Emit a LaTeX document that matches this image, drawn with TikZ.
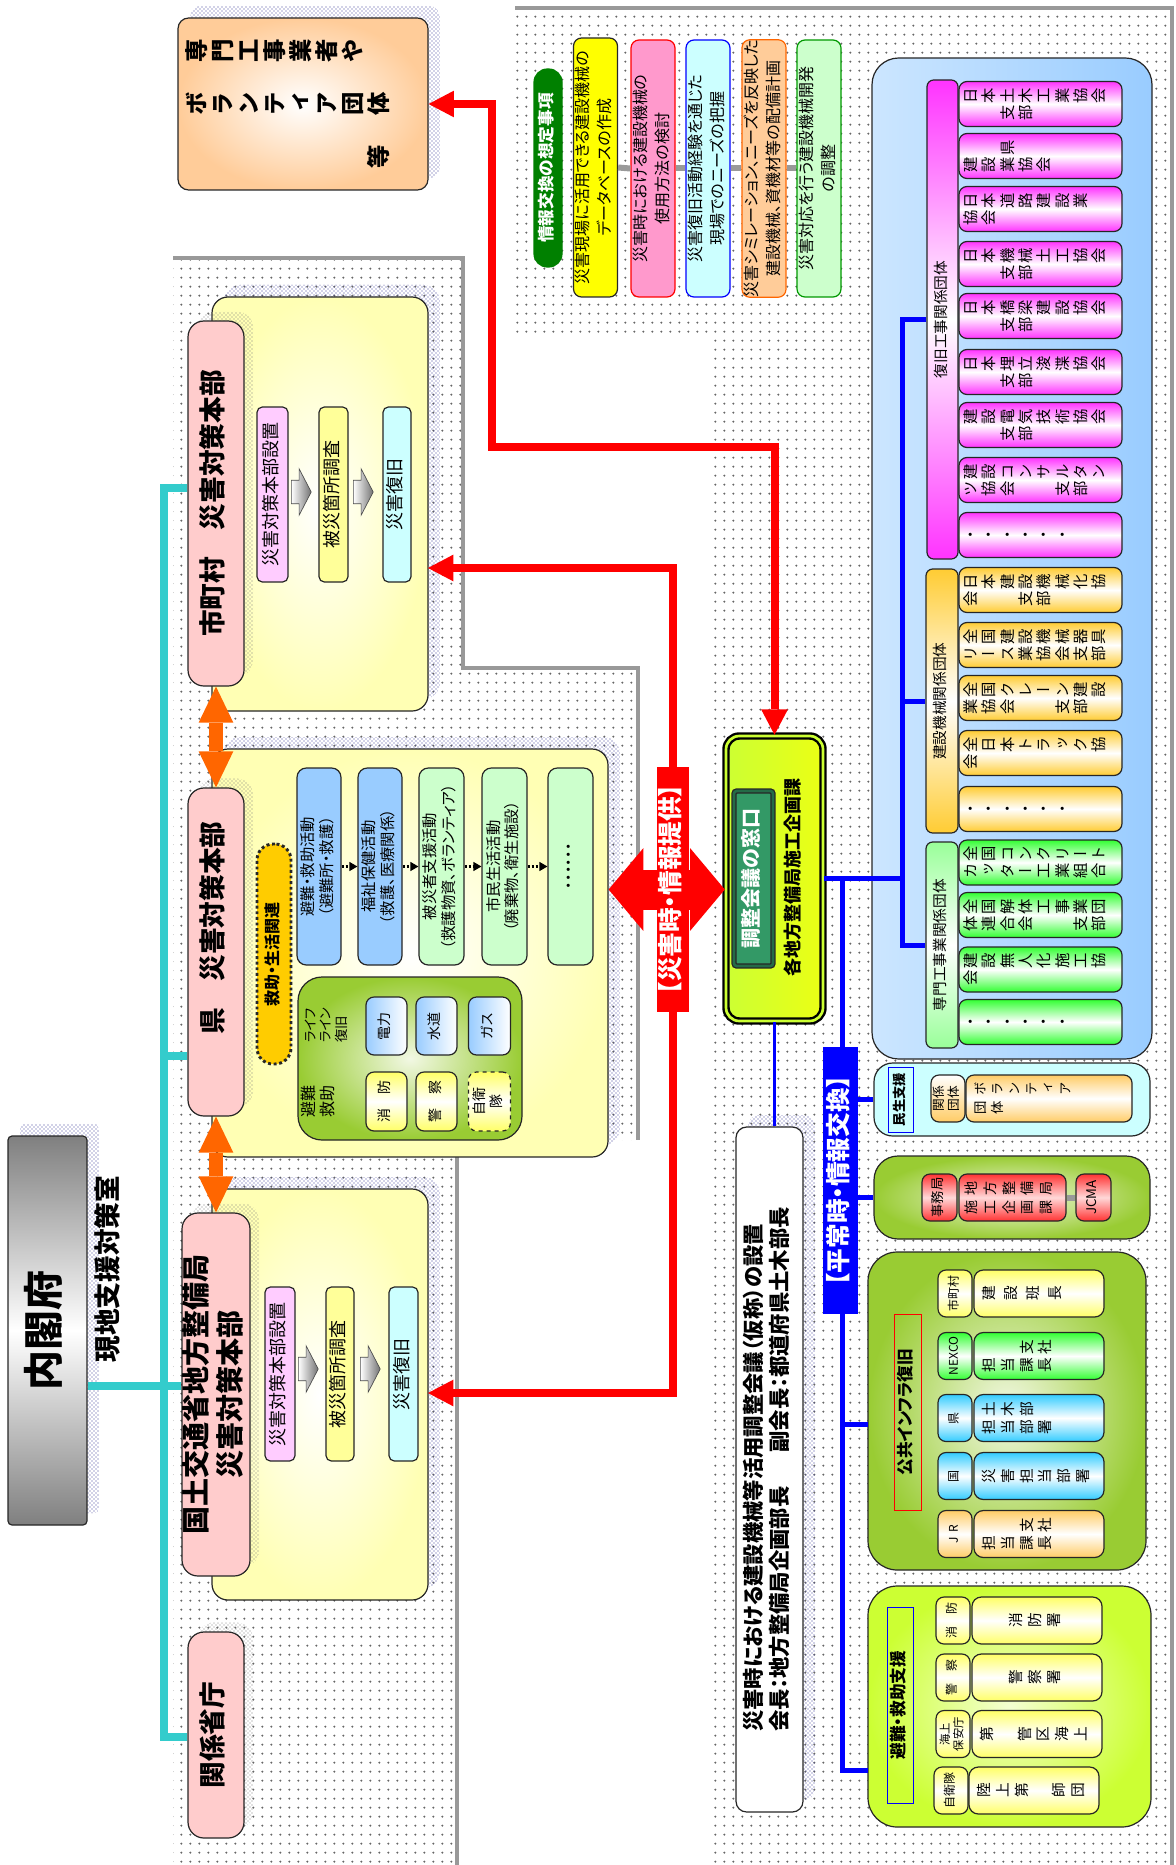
\documentclass[tikz,border=0pt]{standalone}
\usepackage{fontspec}
\setmainfont{Noto Sans CJK JP}[RawFeature=+palt, BoldFont={Noto Sans CJK JP Black}]
\usepackage{graphicx}
\usetikzlibrary{arrows.meta, calc, positioning, shapes.arrows, shadows, patterns, patterns.meta}

\definecolor{yelbox}{HTML}{FFFFB4}
\definecolor{pinklbl}{HTML}{FFCCCC}
\definecolor{stepA}{HTML}{FFCCFF}
\definecolor{stepB}{HTML}{FFFF99}
\definecolor{stepC}{HTML}{CCFFFF}
\definecolor{actblue}{HTML}{99CCFF}
\definecolor{actgrn}{HTML}{CCFFCC}
\definecolor{kyujoorg}{HTML}{FFCC00}
\definecolor{lifegrn}{HTML}{99CC33}
\definecolor{lifelt}{HTML}{F2F8E4}
\definecolor{hotred}{HTML}{FF0000}
\definecolor{orng}{HTML}{FF6600}
\definecolor{tealc}{HTML}{33CCCC}
\definecolor{shadowblue}{HTML}{3C3C96}
\definecolor{panelblue}{HTML}{99CCFF}
\definecolor{panellt}{HTML}{CCE6FF}
\definecolor{magc}{HTML}{FF33FF}
\definecolor{orgc}{HTML}{FFCC33}
\definecolor{grnc}{HTML}{33FF33}
\definecolor{grnlbl}{HTML}{99FF99}
\definecolor{minseic}{HTML}{CCFFFF}
\definecolor{limec}{HTML}{CCFF33}
\definecolor{limelt}{HTML}{F4FFD2}
\definecolor{madogrn}{HTML}{339966}
\definecolor{peach}{HTML}{FFCC99}
\definecolor{itemA}{HTML}{FFFF00}
\definecolor{itemB}{HTML}{FF99CC}
\definecolor{itemC}{HTML}{CCFFFF}
\definecolor{itemD}{HTML}{FFCC99}
\definecolor{itemE}{HTML}{CCFFCC}
\definecolor{rowyel}{HTML}{FFFF66}
\definecolor{rowgrn}{HTML}{33FF33}
\definecolor{rowblue}{HTML}{33CCFF}
\definecolor{roworg}{HTML}{FFCC66}
\definecolor{jcmared}{HTML}{FF3333}
\definecolor{kougrn}{HTML}{008000}

\makeatletter
\newlength\tategap
\newcommand\tate[1]{{\addfontfeatures{RawFeature=+vert}\@tfor\tate@c:=#1\do{\rotatebox{90}{\rule[-.12em]{0pt}{1em}\tate@c}\kern\tategap}}}
\makeatother
\newcommand\yoko[1]{\rotatebox{90}{\begin{tabular}{@{}c@{}}#1\end{tabular}}}
\newcommand\yokol[1]{\rotatebox{90}{\begin{tabular}{@{}l@{}}#1\end{tabular}}}

\tikzdeclarepattern{
  name=paneldots,
  type=uncolored,
  bounding box={(0pt,0pt) and (7pt,7pt)},
  tile size={(7pt,7pt)},
  code={\pgfpathcircle{\pgfqpoint{3.5pt}{3.5pt}}{0.9pt}\pgfusepath{fill}}
}

\tikzset{
  px/.style 2 args={minimum width=#1*0.75pt, minimum height=#2*0.75pt},
  rbox/.style     ={draw=black!85, line width=0.9pt, rounded corners=4pt, inner sep=0pt},
  panelrim/.style ={draw=black!40, line width=2.5pt},
  bshadow/.style  ={general shadow={shadow xshift=9pt, shadow yshift=9pt, pattern=crosshatch dots, pattern color=shadowblue}},
  gshadow/.style  ={general shadow={shadow xshift=7pt, shadow yshift=7pt, pattern=crosshatch dots, pattern color=black!50}},
  hqbox/.style    ={rbox, rounded corners=12pt, inner color=white, outer color=yelbox, bshadow},
  hq/.style       ={rbox, rounded corners=12pt, fill=pinklbl, gshadow, font=\fontsize{20}{23}\selectfont\bfseries},
  stepbox/.style  ={rbox, rounded corners=4pt, font=\fontsize{13.5}{15}\selectfont},
  blockarr/.style ={single arrow, draw=black!70, line width=0.5pt, left color=white, right color=black!55, anchor=tail,
                    inner xsep=4.9pt, inner ysep=8.6pt, single arrow head extend=8.6pt, single arrow tip angle=125},
  act/.style      ={rbox, rounded corners=7pt, px={44}{197}, font=\fontsize{11.5}{13.5}\selectfont},
  unit/.style     ={rbox, rounded corners=6pt, font=\fontsize{10.5}{12}\selectfont},
  item/.style     ={rbox, rounded corners=6pt, font=\fontsize{12}{16.5}\selectfont},
  grp/.style      ={rbox, rounded corners=5pt, font=\fontsize{11}{13}\selectfont},
  member/.style   ={rbox, rounded corners=6pt, px={163}{45}, text width=116pt, inner xsep=3pt, align=left,
                    font=\fontsize{11.5}{12.75}\selectfont\setlength\tategap{2.2pt}},
  magbox/.style   ={member, top color=magc, bottom color=magc, middle color=white},
  orgbox/.style   ={member, top color=orgc, bottom color=orgc, middle color=white},
  grnbox/.style   ={member, top color=grnc, bottom color=grnc, middle color=white},
  sml/.style      ={rbox, rounded corners=6pt, px={34}{47}, font=\fontsize{9}{10.5}\selectfont},
  big/.style      ={rbox, rounded corners=7pt, px={130}{47}, text width=85.5pt, inner xsep=6pt, align=left,
                    font=\fontsize{11}{14}\selectfont\setlength\tategap{3pt}},
  greenbox/.style ={rbox, rounded corners=18pt, inner color=lifelt, outer color=lifegrn},
  limebox/.style  ={rbox, rounded corners=18pt, inner color=limelt, outer color=limec},
  tag/.style      ={inner sep=0pt, font=\fontsize{12.5}{14}\selectfont\bfseries},
  redline/.style  ={draw=hotred, line width=6pt},
  redarr/.style   ={redline, -{Triangle[length=19pt, width=20pt, line width=0pt]}},
  redboth/.style  ={redline, {Triangle[length=19pt, width=20pt, line width=0pt]}-{Triangle[length=19pt, width=20pt, line width=0pt]}},
  bigred/.style   ={draw=hotred, line width=30pt, {Triangle[length=26pt, width=62pt, line width=0pt]}-{Triangle[length=26pt, width=62pt, line width=0pt]}},
  orngarr/.style  ={draw=orng, line width=11pt, {Triangle[length=27pt, width=26pt, line width=0pt]}-{Triangle[length=27pt, width=26pt, line width=0pt]}},
  tealline/.style ={draw=tealc, line width=6pt},
  blueline/.style ={draw=blue, line width=3.75pt},
  dotarr/.style   ={densely dotted, line width=2pt, -{Triangle[length=6pt, width=7pt, line width=0pt]}},
  graybar/.style  ={draw=black!40, line width=4.5pt},
}

\begin{document}
\begin{tikzpicture}[x=0.75pt, y=-0.75pt]
  \useasboundingbox (0,0) rectangle (1175,1865);
  \fill[pattern=paneldots, pattern color=black!60] (173,258) -- (463,258) -- (463,668) -- (638,668) -- (638,1140) -- (457,1140) -- (457,1865) -- (173,1865) -- cycle;
  \fill[pattern=paneldots, pattern color=black!60] (515,8) -- (1172,8) -- (1172,1865) -- (712,1865) -- (712,337) -- (515,337) -- cycle;
  \draw[panelrim] (173,258) -- (463,258) -- (463,668) -- (638,668) -- (638,1140);
  \draw[panelrim] (457,1150) -- (457,1865);
  \draw[panelrim] (515,8) -- (1172,8) -- (1172,1865);

  \node[rbox, rounded corners=3pt, px={79}{389}, top color=black!50, bottom color=black!50, middle color=white, bshadow,
        font=\fontsize{30}{32}\selectfont\bfseries] (naikaku) at (47.5,1330.5) {\yoko{内閣府}};
  \node[font=\fontsize{20}{22}\selectfont\bfseries] (genchi) at (110.5,1269) {\yoko{現地支援対策室}};

  \node[hqbox, px={216}{414}] (shibox) at (320,504) {};
  \node[hq, px={56}{365}] (shilbl) at (216,503.5) {\yoko{市町村　災害対策本部}};
  \node[stepbox, fill=stepA, px={31}{175}] (shi1) at (272.5,494.5) {\yoko{災害対策本部設置}};
  \node[blockarr] (shia1) at (291,492) {};
  \node[stepbox, fill=stepB, px={29}{175}] (shi2) at (333.5,494.5) {\yoko{被災箇所調査}};
  \node[blockarr] (shia2) at (353,492) {};
  \node[stepbox, fill=stepC, px={28}{175}] (shi3) at (397,494.5) {\yoko{災害復旧}};

  \node[hqbox, px={396}{408}] (kenbox) at (410,953) {};
  \node[hq, px={56}{328}] (kenlbl) at (216,952) {\yoko{\hspace*{1.8em}県　災害対策本部}};
  \node[rbox, rounded corners=12pt, px={34}{220}, fill=kyujoorg, line width=2.2pt, dotted,
        font=\fontsize{12}{14}\selectfont\bfseries] (kyujo) at (274,954) {\yoko{救助・生活関連}};
  \node[act, fill=actblue] (act1) at (319,866.5) {\yoko{避難・救助活動\\（避難所・救護）}};
  \node[act, fill=actblue] (act2) at (380,866.5) {\yoko{福祉保健活動\\（救護、医療関係）}};
  \node[act, fill=actgrn, px={45}{197}] (act3) at (441.5,866.5) {\yoko{被災者支援活動\\（救護物資、ボランティア）}};
  \node[act, fill=actgrn, px={45}{197}] (act4) at (504.5,866.5) {\yoko{市民生活活動\\（廃棄物、衛生施設）}};
  \node[act, fill=actgrn, px={45}{197}] (act5) at (570.5,866.5) {\yoko{・・・・・・}};
  \draw[dotarr] (act1.east) -- (act2.west);
  \draw[dotarr] (act2.east) -- (act3.west);
  \draw[dotarr] (act3.east) -- (act4.west);
  \draw[dotarr] (act4.east) -- (act5.west);

  \node[greenbox, px={224}{163}] (lifebox) at (410,1058.5) {};
  \node[font=\fontsize{12}{13.5}\selectfont] (lifehin) at (320,1101) {\yoko{避難\\救助}};
  \node[font=\fontsize{10}{11.25}\selectfont] (lifelbl) at (328,1025) {\yokol{ライフ\\ライン\\復旧}};
  \node[unit, px={41}{58}, left color=actblue, right color=white] (den) at (386.5,1026) {\yoko{電力}};
  \node[unit, px={41}{58}, left color=actblue, right color=white] (sui) at (436.5,1026) {\yoko{水道}};
  \node[unit, px={42}{58}, left color=actblue, right color=white] (gas) at (489.5,1026) {\yoko{ガス}};
  \node[unit, px={41}{59}, top color=rowyel, bottom color=rowyel, middle color=white] (sho) at (386.5,1101.5) {\yoko{消　防}};
  \node[unit, px={41}{59}, top color=rowyel, bottom color=rowyel, middle color=white] (kei) at (436.5,1101.5) {\yoko{警　察}};
  \node[unit, px={42}{59}, top color=rowyel, bottom color=rowyel, middle color=white, dashed] (jiei) at (489.5,1101.5) {\yoko{自衛\\隊}};

  \node[hqbox, px={216}{411}] (kokbox) at (320,1394.5) {};
  \node[hq, px={68}{363}, font=\fontsize{21}{23}\selectfont\bfseries] (koklbl) at (216,1394.5) {\yoko{国土交通省地方整備局\\災害対策本部}};
  \node[stepbox, fill=stepA, px={30}{174}] (kok1) at (280,1374) {\yoko{災害対策本部設置}};
  \node[blockarr] (koka1) at (298,1369) {};
  \node[stepbox, fill=stepB, px={28}{174}] (kok2) at (340,1374) {\yoko{被災箇所調査}};
  \node[blockarr] (koka2) at (360,1369) {};
  \node[stepbox, fill=stepC, px={29}{174}] (kok3) at (403.5,1374) {\yoko{災害復旧}};

  \node[hq, px={56}{206}] (kanlbl) at (216,1735) {\yoko{関係省庁}};

  \coordinate (tshi) at (164,488);
  \coordinate (tken) at (164,1056);
  \coordinate (tkok) at (164,1386);
  \coordinate (tkan) at (164,1737);
  \draw[tealline] (tshi -| shilbl.west) -- (tshi) -- (tkan) -- (tkan -| kanlbl.west);
  \draw[tealline] (tken) -- (tken -| kenlbl.west);
  \draw[tealline] (tkok -| naikaku.east) -- (tkok -| koklbl.west);
  \draw[orngarr] (shilbl.south) -- (kenlbl.north);
  \draw[orngarr] (kenlbl.south) -- (koklbl.north);

  \node[rbox, rounded corners=8pt, px={250}{172}, inner color=white, outer color=peach, bshadow, text width=177pt,
        inner xsep=5.25pt, align=left, font=\fontsize{17.5}{40}\selectfont\bfseries\setlength\tategap{2pt}] (vol)
        at (303,104) {\tate{専門工事業者や}\\\tate{ボランティア団体}\\\tate{　　　　　　　等}};

  \node[rbox, rounded corners=10pt, px={97}{285}, draw=black, line width=1.8pt, double=limec, double distance=2pt,
        left color=limec, right color=yellow!60!limec] (chosei) at (774.5,878.5) {};
  \node[rbox, px={39}{175}, rounded corners=2pt, fill=madogrn, draw=black!85, line width=1pt, double=madogrn!70!black,
        double distance=2pt, text=white, font=\fontsize{15}{17}\selectfont\bfseries] (mado) at (753.5,878.5) {\yoko{調整会議の窓口}};
  \node[font=\fontsize{13.5}{15}\selectfont\bfseries] (kakuchi) at (795,877) {\yoko{各地方整備局施工企画課}};

  \node[rbox, rounded corners=8pt, px={67}{685}, fill=white, bshadow, font=\fontsize{16}{19}\selectfont\bfseries] (kaigi)
        at (769.5,1469.5) {\yokol{災害時における建設機械等活用調整会議（仮称）の設置\\会長：地方整備局企画部長\hspace{1.6em}副会長：都道府県土木部長}};

  \coordinate (shiin) at (428,568);
  \coordinate (kokin) at (428,1393);
  \node[inner sep=0pt, px={32}{245}] (saigai) at (673,889.5) {};
  \draw[bigred] (kenbox.east |- saigai.center) -- (chosei.west |- saigai.center);
  \draw[redarr] (saigai.north) |- (shiin);
  \draw[redarr] (saigai.south) |- (kokin);
  \node[fill=hotred, inner sep=0pt, px={32}{245}, text=white, font=\fontsize{18.5}{20}\selectfont\bfseries] at (saigai) {\yoko{【災害時・情報提供】}};
  \draw[redboth] (vol.east) -| (492,447) -| (chosei.north);

  \node[rbox, rounded corners=10pt, px={28}{198}, fill=kougrn, draw=kougrn, text=white,
        font=\fontsize{12.5}{14}\selectfont\bfseries] (kouk) at (548,168) {\yoko{情報交換の想定事項}};
  \node[item, px={43}{259}, fill=itemA] (item1) at (595.5,167.5) {\yoko{災害現場に活用できる建設機械の\\データベースの作成}};
  \node[item, px={42}{257}, fill=itemB, draw=red] (item2) at (653,168.5) {\yoko{災害時における建設機械の\\使用方法の検討}};
  \node[item, px={42}{257}, fill=itemC, draw=blue] (item3) at (708,168.5) {\yoko{災害復旧活動経験を通じた\\現場でのニーズの把握}};
  \node[item, px={40}{257}, fill=itemD, draw=orng] (item4) at (764,168.5) {\yoko{災害シミレーション、ニーズを反映した\\建設機械、資機材等の配備計画}};
  \node[item, px={42}{257}, fill=itemE, draw=green!60!black] (item5) at (819,168.5) {\yoko{災害対応を行う建設機械開発\\の調整}};
  \draw[graybar] (item1.east) -- (item2.west);
  \draw[graybar] (item2.east) -- (item3.west);
  \draw[graybar] (item3.east) -- (item4.west);
  \draw[graybar] (item4.east) -- (item5.west);

  \node[rbox, rounded corners=20pt, px={280}{1001}, left color=panellt, right color=panelblue] (bpanel) at (1012,558.5) {};
  \node[grp, px={31}{479}, top color=magc, bottom color=magc, middle color=white] (fkgrp) at (942.5,319.5) {\yoko{復旧工事関係団体}};
  \node[grp, px={32}{264}, top color=orgc, bottom color=orgc, middle color=white] (kkgrp) at (942,701) {\yoko{建設機械関係団体}};
  \node[grp, px={32}{206}, top color=grnlbl, bottom color=grnlbl, middle color=white] (sngrp) at (942,945) {\yoko{専門工事業関係団体}};

  \node[magbox] (m1) at (1040.5,104) {\tate{日本土木工業協会}\\\tate{　　支部}};
  \node[magbox] (m2) at (1040.5,156) {\tate{　　県}\\\tate{建設業協会}};
  \node[magbox] (m3) at (1040.5,209) {\tate{日本道路建設業}\\\tate{協会}};
  \node[magbox] (m4) at (1040.5,264) {\tate{日本機械土工協会}\\\tate{　　支部}};
  \node[magbox] (m5) at (1040.5,316) {\tate{日本橋梁建設協会}\\\tate{　　支部}};
  \node[magbox] (m6) at (1040.5,372) {\tate{日本埋立浚渫協会}\\\tate{　　支部}};
  \node[magbox] (m7) at (1040.5,425) {\tate{建設電気技術協会}\\\tate{　　支部}};
  \node[magbox] (m8) at (1040.5,480) {\tate{建設コンサルタン}\\\tate{ツ協会　　支部}};
  \node[magbox] (m9) at (1040.5,535) {\tate{・・・・・・}};
  \node[orgbox] (o1) at (1040.5,590) {\tate{日本建設機械化協}\\\tate{会　　支部}};
  \node[orgbox] (o2) at (1040.5,645) {\tate{全国建設機械器具}\\\tate{リース業協会支部}};
  \node[orgbox] (o3) at (1040.5,698) {\tate{全国クレーン建設}\\\tate{業協会　　支部}};
  \node[orgbox] (o4) at (1040.5,753) {\tate{全日本トラック協}\\\tate{会}};
  \node[orgbox] (o5) at (1040.5,809) {\tate{・・・・・・}};
  \node[grnbox] (s1) at (1040.5,862.5) {\tate{全国コンクリート}\\\tate{カッター工業組合}};
  \node[grnbox] (s2) at (1040.5,915) {\tate{全国解体工事業団}\\\tate{体連合会　　支部}};
  \node[grnbox] (s3) at (1040.5,969.5) {\tate{建設無人化施工協}\\\tate{会}};
  \node[grnbox] (s4) at (1040.5,1022) {\tate{・・・・・・}};

  \node[rbox, rounded corners=14pt, px={276}{73}, fill=minseic] (minsei) at (1012,1099.5) {};
  \node[draw=blue, line width=0.6pt, inner sep=0pt, px={25}{65}, font=\fontsize{10}{11}\selectfont\bfseries] (minlbl) at (900.5,1099.5) {\yoko{民生支援}};
  \node[sml, top color=white, bottom color=roworg, font=\fontsize{9.5}{11}\selectfont] (kankei) at (948,1098.5) {\yoko{関係\\団体}};
  \node[rbox, rounded corners=6pt, px={166}{47}, top color=roworg, bottom color=roworg, middle color=white, text width=112.5pt,
        inner xsep=6pt, align=left, font=\fontsize{10}{14.25}\selectfont\setlength\tategap{2.75pt}] (volgrp)
        at (1049,1098.5) {\tate{ボランティア}\\\tate{団体}};

  \node[greenbox, px={276}{83}] (jcma) at (1012,1197.5) {};
  \node[sml, px={35}{47}, top color=jcmared, bottom color=jcmared, middle color=red!15, font=\fontsize{10}{11}\selectfont] (jimu) at (939.5,1197.5) {\yoko{事務局}};
  \node[rbox, rounded corners=6pt, px={107}{47}, top color=jcmared, bottom color=jcmared, middle color=red!15, text width=72pt,
        inner xsep=4.1pt, align=left, font=\fontsize{10.5}{14.25}\selectfont\setlength\tategap{3.5pt}] (sekou)
        at (1012.5,1197.5) {\tate{地方整備局}\\\tate{施工企画課}};
  \node[sml, px={35}{47}, top color=jcmared, bottom color=jcmared, middle color=red!15, font=\fontsize{10}{11}\selectfont] (jcmab) at (1093.5,1197.5) {\yoko{JCMA}};
  \draw[graybar] (sekou.east) -- (jcmab.west);

  \node[greenbox, rounded corners=22pt, px={278}{318}] (kokyo) at (1007,1411) {};
  \node[tag, draw=hotred, line width=0.6pt, px={27}{196}] (infralbl) at (907.5,1412) {\yoko{公共インフラ復旧}};
  \node[sml, top color=rowyel, bottom color=rowyel, middle color=white] (r1a) at (955,1293.5) {\yoko{市町村}};
  \node[big, top color=rowyel, bottom color=rowyel, middle color=white] (r1b) at (1039,1293.5) {{\setlength\tategap{5.5pt}\tate{建設班長}}};
  \node[sml, top color=rowgrn, bottom color=rowgrn, middle color=white] (r2a) at (955,1356) {\yoko{NEXCO}};
  \node[big, top color=rowgrn, bottom color=rowgrn, middle color=white] (r2b) at (1039,1356) {\tate{　　支社}\\\tate{担当課長}};
  \node[sml, top color=rowblue, bottom color=rowblue, middle color=white] (r3a) at (955,1418) {\yoko{県}};
  \node[big, top color=rowblue, bottom color=rowblue, middle color=white] (r3b) at (1039,1418) {\tate{土木部}\\\tate{担当部署}};
  \node[sml, top color=rowblue, bottom color=rowblue, middle color=white] (r4a) at (955,1476) {\yoko{国}};
  \node[big, top color=rowblue, bottom color=rowblue, middle color=white] (r4b) at (1039,1476) {\tate{災害担当部署}};
  \node[sml, top color=roworg, bottom color=roworg, middle color=white] (r5a) at (955,1534) {\yoko{J\,\,R}};
  \node[big, top color=roworg, bottom color=roworg, middle color=white] (r5b) at (1039,1534) {\tate{　　支社}\\\tate{担当課長}};

  \node[limebox, rounded corners=22pt, px={283}{241}] (hinan) at (1009.5,1706.5) {};
  \node[tag, draw=blue, line width=0.6pt, px={26}{196}] (hinlbl) at (900,1705) {\yoko{避難・救助支援}};
  \node[sml, top color=rowyel, bottom color=rowyel, middle color=white] (h1a) at (953,1620.5) {\yoko{消　防}};
  \node[big, align=center, top color=rowyel, bottom color=rowyel, middle color=white] (h1b) at (1037,1620.5) {\tate{消防署}};
  \node[sml, top color=rowyel, bottom color=rowyel, middle color=white] (h2a) at (953,1677.5) {\yoko{警　察}};
  \node[big, align=center, top color=rowyel, bottom color=rowyel, middle color=white] (h2b) at (1037,1677.5) {\tate{警察署}};
  \node[sml, top color=rowyel, bottom color=rowyel, middle color=white, font=\fontsize{8.5}{9.5}\selectfont] (h3a) at (953,1734) {\yoko{海上\\保安庁}};
  \node[big, top color=rowyel, bottom color=rowyel, middle color=white] (h3b) at (1037,1734) {\tate{第　管区海上}};
  \node[sml, top color=rowyel, bottom color=rowyel, middle color=white] (h4a) at (951,1790.5) {\yoko{自衛隊}};
  \node[big, top color=rowyel, bottom color=rowyel, middle color=white] (h4b) at (1034,1790.5) {\tate{陸上第　師団}};

  \coordinate (bk) at (902,0);
  \coordinate (bh) at (842,0);
  \coordinate (kokyoin) at (868,1424);
  \coordinate (hinanin) at (868,1770);
  \draw[blueline] (fkgrp.west) -- (fkgrp.west -| bk) -- (sngrp.west -| bk) -- (sngrp.west);
  \draw[blueline] (kkgrp.west -| bk) -- (kkgrp.west);
  \draw[blueline] (chosei.east) -- (chosei.east -| bk);
  \draw[blueline] (chosei.east -| bh) -- (hinanin -| bh) -- (hinanin);
  \draw[blueline] (minsei.west -| bh) -- (minsei.west);
  \draw[blueline] (jcma.west -| bh) -- (jcma.west);
  \draw[blueline] (kokyoin -| bh) -- (kokyoin);
  \draw[draw=blue, line width=2pt] (chosei.south) -- (chosei.south |- kaigi.north);
  \node[fill=blue, inner sep=0pt, px={35}{267}, text=white, font=\fontsize{18.5}{20}\selectfont\bfseries] (heijo) at (840.5,1180.5) {\yoko{【平常時・情報交換】}};
\end{tikzpicture}
\end{document}
